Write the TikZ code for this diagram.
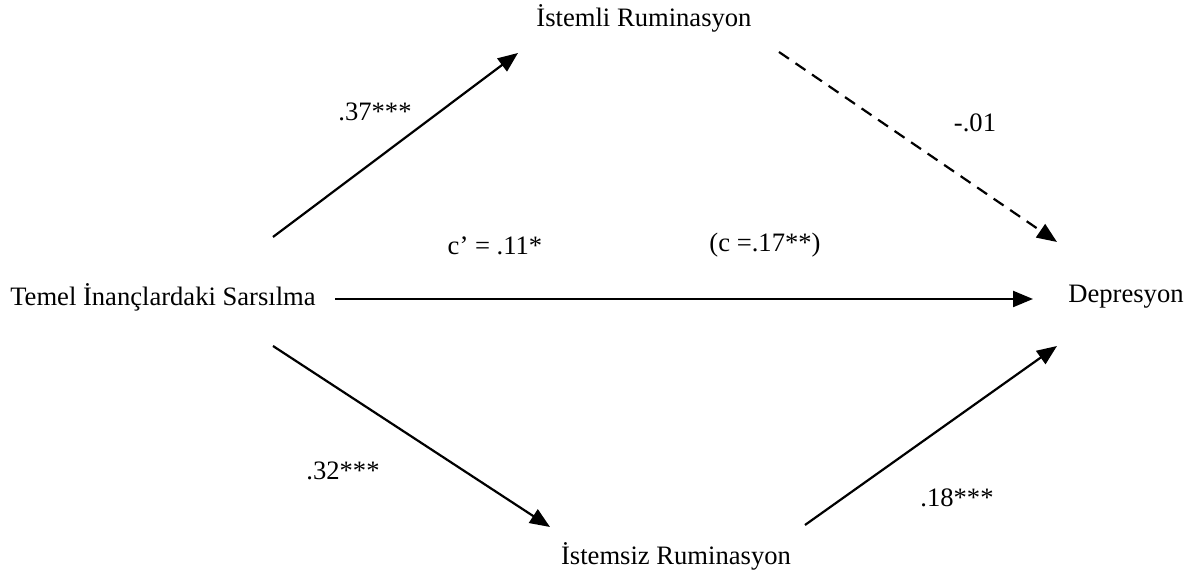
\documentclass[tikz,border=0pt]{standalone}
\usepackage{fontspec}
\setmainfont{Liberation Serif}
\usetikzlibrary{positioning,arrows.meta}

\begin{document}
\begin{tikzpicture}[x=0.5pt, y=-0.5pt, font=\fontsize{13.3}{16}\selectfont,
    pth/.style={-{Triangle[length=10pt, width=8pt]}, line width=1.1pt},
    coef/.style={inner sep=0pt}]
  \useasboundingbox (0,0) rectangle (1191,581);
  % variables
  \node (tem) at (163,297) {Temel İnançlardaki Sarsılma};
  \node (dep) at (1126,297) {Depresyon};
  \node (ist) at (644,18) {İstemli Ruminasyon};
  \node (isz) at (676,556) {İstemsiz Ruminasyon};
  % free ends of the paths
  \coordinate (a1s) at (273,237);  \coordinate (a1e) at (518,53);
  \coordinate (a2s) at (779,52);   \coordinate (a2e) at (1057,242);
  \coordinate (a3s) at (335,299);  \coordinate (a3e) at (1033,299);
  \coordinate (a4s) at (273,346);  \coordinate (a4e) at (550,527);
  \coordinate (a5s) at (805,525);  \coordinate (a5e) at (1057,346);
  \draw[pth] (a1s) -- (a1e);
  \draw[pth, dash pattern=on 6pt off 4pt] (a2s) -- (a2e);
  \draw[pth] (a3s) -- (a3e);
  \draw[pth] (a4s) -- (a4e);
  \draw[pth] (a5s) -- (a5e);
  % coefficients
  \node[coef] (k1) at (375,112) {.37***};
  \node[coef] (k2) at (975,123) {-.01};
  \node[coef] (k3) at (495,246) {c’ = .11*};
  \node[coef] (k4) at (765,245) {(c =.17**)};
  \node[coef] (k5) at (343,471) {.32***};
  \node[coef] (k6) at (957,498) {.18***};
\end{tikzpicture}
\end{document}
